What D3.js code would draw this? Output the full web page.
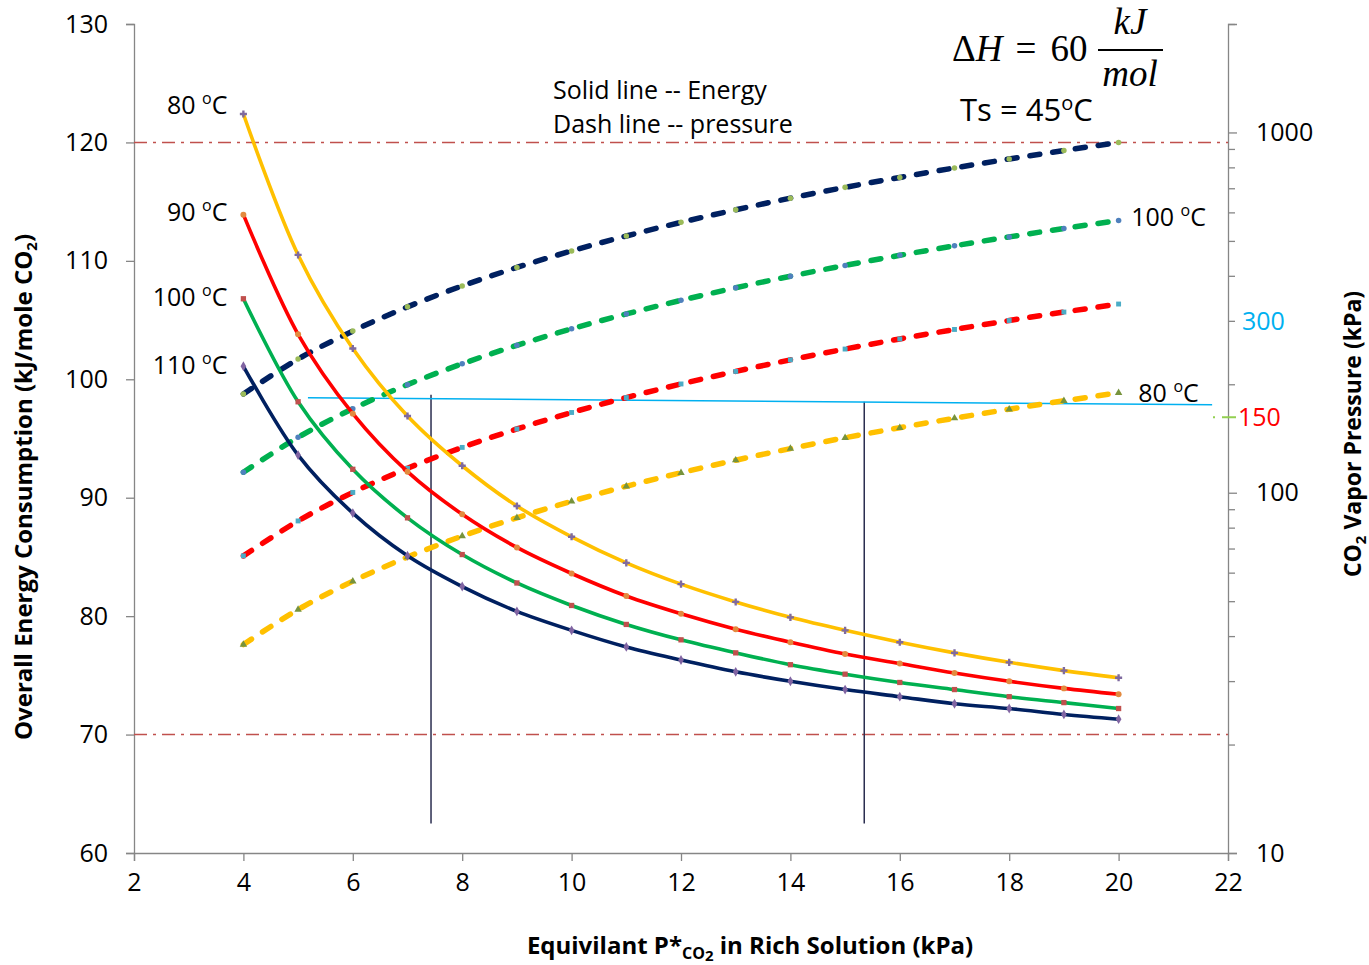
<!DOCTYPE html>
<html>
<head>
<meta charset="utf-8">
<script src="https://cdn.jsdelivr.net/npm/d3@7"></script>
<style>
  body { margin: 0; background: #fff; }
  svg text { font-family: "Open Sans", sans-serif; fill: #000; }
</style>
</head>
<body>
<svg id="chart" width="1369" height="965"></svg>
<script>
// equivalent P*CO2 in rich solution (kPa)
var pstar = [4, 5, 6, 7, 8, 9, 10, 11, 12, 13, 14, 15, 16, 17, 18, 19, 20];

// overall energy consumption (kJ/mole CO2), solid lines
var energy80  = [122.4, 110.5, 102.6, 96.9, 92.7, 89.3, 86.7, 84.5, 82.7, 81.2, 79.9, 78.8, 77.8, 76.9, 76.1, 75.4, 74.8];
var energy90  = [113.9, 103.8, 97.1, 92.2, 88.6, 85.8, 83.6, 81.7, 80.2, 78.9, 77.8, 76.8, 76.0, 75.2, 74.5, 73.9, 73.4];
var energy100 = [106.8, 98.1, 92.4, 88.3, 85.2, 82.8, 80.9, 79.3, 78.0, 76.9, 75.9, 75.1, 74.4, 73.8, 73.2, 72.7, 72.2];
var energy110 = [101.1, 93.6, 88.7, 85.1, 82.5, 80.4, 78.8, 77.4, 76.3, 75.3, 74.5, 73.8, 73.2, 72.6, 72.2, 71.7, 71.3];

// CO2 vapor pressure (kPa), dashed lines
var press80  = [37.9, 47.4, 56.8, 66.3, 75.8, 85.2, 94.7, 104.2, 113.6, 123.1, 132.6, 142.1, 151.5, 161.0, 170.5, 179.9, 189.4];
var press90  = [66.8, 83.5, 100.2, 116.9, 133.6, 150.3, 167, 183.7, 200.4, 217.1, 233.8, 250.5, 267.2, 283.9, 300.6, 317.3, 334];
var press100 = [114, 142.5, 171, 199.5, 228, 256.5, 285, 313.5, 342, 370.5, 399, 427.5, 456, 484.5, 513, 541.5, 570];
var press110 = [188, 235, 281, 328, 375, 422, 469, 516, 563, 610, 657, 704, 750, 797, 844, 891, 938];

var xTicks = [2, 4, 6, 8, 10, 12, 14, 16, 18, 20, 22];
var yLeftTicks = [60, 70, 80, 90, 100, 110, 120, 130];
var yRightMajor = [10, 100, 1000];
var yRightMinor = [20, 30, 40, 50, 60, 70, 80, 90, 200, 300, 400, 500, 600, 700, 800, 900, 2000];
var refLines = [120, 70];       // dash-dot limits on energy axis
var markX = [7.43, 15.35];      // vertical markers

var solidSeries = [
  {name: "80", vals: energy80,  color: "#ffc000", mark: "#7f6aa0", shape: d3.symbolCross},
  {name: "90", vals: energy90,  color: "#ff0000", mark: "#e38a3f", shape: d3.symbolCircle},
  {name: "100", vals: energy100, color: "#00b050", mark: "#c0504d", shape: d3.symbolSquare},
  {name: "110", vals: energy110, color: "#002060", mark: "#8064a2", shape: d3.symbolDiamond}
];
var dashSeries = [
  {name: "110", vals: press110, color: "#002060", mark: "#9bbb59", shape: d3.symbolCircle},
  {name: "100", vals: press100, color: "#00b050", mark: "#4f81bd", shape: d3.symbolCircle},
  {name: "90",  vals: press90,  color: "#ff0000", mark: "#4bacc6", shape: d3.symbolSquare},
  {name: "80",  vals: press80,  color: "#ffc000", mark: "#77933c", shape: d3.symbolTriangle}
];

var svg = d3.select("#chart");
var pl = 134, pr = 1228, pt = 24, pb = 853;

var x = d3.scaleLinear().domain([2, 22]).range([pl, pr]);
var yL = d3.scaleLinear().domain([60, 130]).range([pb, pt]);
var yR = d3.scaleLog().domain([10, 2000]).range([pb, pt]);

var axisColor = "#868686";

// axes
var xAxis = svg.append("g").attr("transform", "translate(0," + pb + ")")
  .call(d3.axisBottom(x).tickValues(xTicks).tickSize(8).tickPadding(12).tickFormat(d3.format("d")));
var lAxis = svg.append("g").attr("transform", "translate(" + pl + ",0)")
  .call(d3.axisLeft(yL).tickValues(yLeftTicks).tickSize(8).tickPadding(18).tickFormat(d3.format("d")));
var rAxis = svg.append("g").attr("transform", "translate(" + pr + ",0)")
  .call(d3.axisRight(yR).tickValues(yRightMajor).tickSize(9).tickPadding(19).tickFormat(d3.format("d")));
var rMinor = svg.append("g").attr("transform", "translate(" + pr + ",0)")
  .call(d3.axisRight(yR).tickValues(yRightMinor).tickSize(7).tickFormat(""));

[xAxis, lAxis, rAxis, rMinor].forEach(function(a) {
  a.select(".domain").attr("stroke", axisColor).attr("stroke-width", 1.3);
  a.selectAll(".tick line").attr("stroke", axisColor).attr("stroke-width", 1.3);
  a.selectAll(".tick text").style("font-size", "25px").attr("fill", "#000");
});
rMinor.select(".domain").remove();

// reference dash-dot lines
svg.append("g").selectAll("line").data(refLines).enter().append("line")
  .attr("x1", x(2)).attr("x2", x(22))
  .attr("y1", function(d) { return yL(d); }).attr("y2", function(d) { return yL(d); })
  .attr("stroke", "#c0504d").attr("stroke-width", 1.5)
  .attr("stroke-dasharray", "13,6,3,6");

// vertical marker lines
svg.append("g").selectAll("line").data(markX).enter().append("line")
  .attr("x1", function(d) { return x(d); }).attr("x2", function(d) { return x(d); })
  .attr("y1", function(d, i) { return yL(i == 0 ? 98.7 : 98.1); }).attr("y2", yL(62.5))
  .attr("stroke", "#2a2d4f").attr("stroke-width", 1.5);

// cyan level line
svg.append("line")
  .attr("x1", x(5.18)).attr("y1", yL(98.45))
  .attr("x2", x(21.71)).attr("y2", yL(97.85))
  .attr("stroke", "#00b0f0").attr("stroke-width", 1.5);

var line = d3.line().curve(d3.curveCatmullRom);

// dashed pressure curves
dashSeries.forEach(function(s) {
  var pts = s.vals.map(function(v, i) { return [x(pstar[i]), yR(v)]; });
  svg.append("path").attr("d", line(pts))
    .attr("fill", "none").attr("stroke", s.color).attr("stroke-width", 5.5)
    .attr("stroke-dasharray", "10,13").attr("stroke-linecap", "round");
  svg.append("g").selectAll("path").data(pts).enter().append("path")
    .attr("d", d3.symbol().type(s.shape).size(24))
    .attr("transform", function(d) { return "translate(" + d[0] + "," + d[1] + ")"; })
    .attr("fill", s.mark);
});

// solid energy curves
solidSeries.forEach(function(s) {
  var pts = s.vals.map(function(v, i) { return [x(pstar[i]), yL(v)]; });
  svg.append("path").attr("d", line(pts))
    .attr("fill", "none").attr("stroke", s.color).attr("stroke-width", 3.6);
  svg.append("g").selectAll("path").data(pts).enter().append("path")
    .attr("d", d3.symbol().type(s.shape).size(28))
    .attr("transform", function(d) { return "translate(" + d[0] + "," + d[1] + ")"; })
    .attr("fill", s.mark);
});

// temperature labels
function degLabel(g, xp, yp, num, anchor) {
  var t = g.append("text").attr("x", xp).attr("y", yp).attr("text-anchor", anchor)
    .style("font-size", "25px");
  t.append("tspan").text(num + " ");
  t.append("tspan").text("o").style("font-size", "16px").attr("dy", -10);
  t.append("tspan").text("C").attr("dy", 10);
  return t;
}
var lab = svg.append("g");
var leftOffsets = [0, 6, 7, 8];
solidSeries.forEach(function(s, i) {
  degLabel(lab, x(4) - 16, yL(s.vals[0]) + leftOffsets[i], s.name, "end");
});
degLabel(lab, x(20.23), yR(press100[16]) + 6, "100", "start");
degLabel(lab, x(20.36), yR(press80[16]) + 9, "80", "start");

// legend notes
svg.append("text").attr("x", x(9.66)).attr("y", 99).style("font-size", "25px").text("Solid line -- Energy");
svg.append("text").attr("x", x(9.66)).attr("y", 133).style("font-size", "25px").text("Dash line -- pressure");

// delta H formula
var serif = "'Liberation Serif', serif";
var f = svg.append("text").attr("x", 952).attr("y", 61)
  .style("font-family", serif).style("font-size", "37px");
f.append("tspan").text("Δ");
f.append("tspan").text("H").style("font-style", "italic");
f.append("tspan").text("=").attr("dx", 13);
f.append("tspan").text("60").attr("dx", 14);
svg.append("text").attr("x", 1130).attr("y", 34).attr("text-anchor", "middle")
  .style("font-family", serif).style("font-size", "37px").style("font-style", "italic").text("kJ");
svg.append("line").attr("x1", 1098).attr("x2", 1163).attr("y1", 50).attr("y2", 50)
  .attr("stroke", "#000").attr("stroke-width", 2.2);
svg.append("text").attr("x", 1130).attr("y", 86).attr("text-anchor", "middle")
  .style("font-family", serif).style("font-size", "37px").style("font-style", "italic").text("mol");

var ts = svg.append("text").attr("x", 960).attr("y", 121).style("font-size", "31px");
ts.append("tspan").text("Ts = 45");
ts.append("tspan").text("o").style("font-size", "20px").attr("dy", -11);
ts.append("tspan").text("C").attr("dy", 11);

// highlighted right-axis values
svg.append("text").attr("x", pr + 14).attr("y", yR(300) + 9)
  .style("font-size", "25px").style("fill", "#00b0f0").text("300");
svg.append("text").attr("x", pr + 10).attr("y", yR(162) + 9)
  .style("font-size", "25px").style("fill", "#ff0000").text("150");
svg.append("line").attr("x1", pr - 15).attr("x2", pr - 13).attr("y1", yR(162)).attr("y2", yR(162))
  .attr("stroke", "#92d050").attr("stroke-width", 2);
svg.append("line").attr("x1", pr - 6).attr("x2", pr + 8).attr("y1", yR(162)).attr("y2", yR(162))
  .attr("stroke", "#92d050").attr("stroke-width", 2);

// axis titles
var xt = svg.append("text").attr("x", 750).attr("y", 954).attr("text-anchor", "middle")
  .style("font-size", "24px").style("font-weight", "bold");
xt.append("tspan").text("Equivilant P*");
xt.append("tspan").text("CO").style("font-size", "16px").attr("dy", 5);
xt.append("tspan").text("2").style("font-size", "15px").attr("dy", 2);
xt.append("tspan").text(" in Rich Solution (kPa)").attr("dy", -7);

var lt = svg.append("text").attr("transform", "translate(32,487) rotate(-90)").attr("text-anchor", "middle")
  .style("font-size", "24px").style("font-weight", "bold");
lt.append("tspan").text("Overall Energy Consumption (kJ/mole CO");
lt.append("tspan").text("2").style("font-size", "15px").attr("dy", 5);
lt.append("tspan").text(")").attr("dy", -5);

var rt = svg.append("text").attr("transform", "translate(1361,434) rotate(-90)").attr("text-anchor", "middle")
  .style("font-size", "23px").style("font-weight", "bold");
rt.append("tspan").text("CO");
rt.append("tspan").text("2").style("font-size", "15px").attr("dy", 5);
rt.append("tspan").text(" Vapor Pressure (kPa)").attr("dy", -5);
</script>
</body>
</html>
